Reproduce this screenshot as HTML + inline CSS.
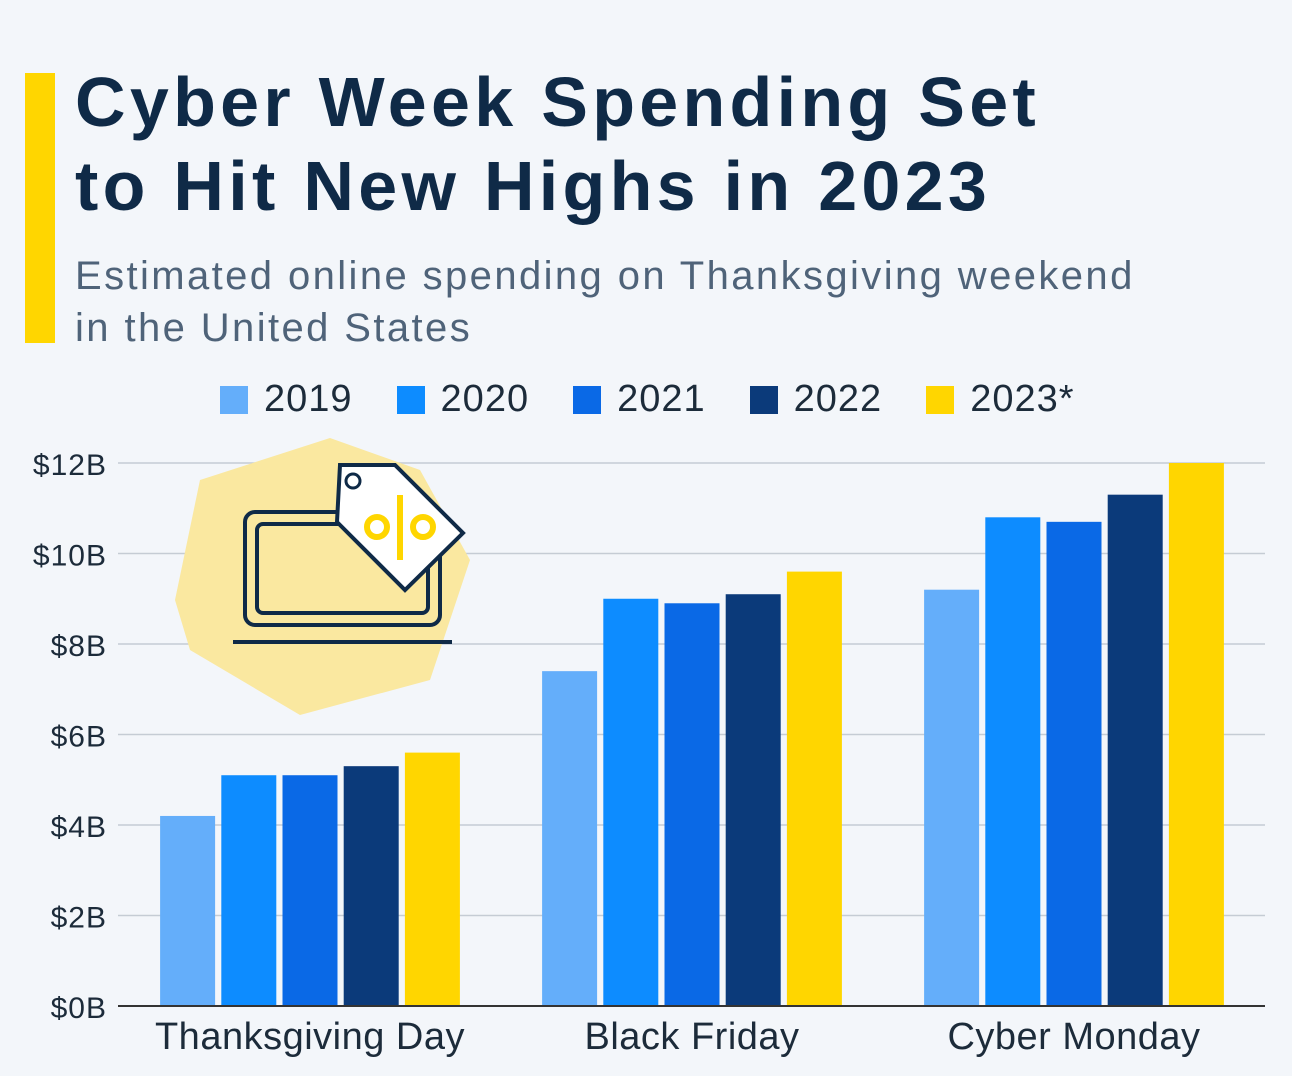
<!DOCTYPE html>
<html><head><meta charset="utf-8"><style>
body{margin:0;width:1292px;height:1076px;background:#f3f6fa;font-family:"Liberation Sans",sans-serif;overflow:hidden;position:relative}
.bar-acc{position:absolute;left:25px;top:73px;width:30px;height:270px;background:#ffd600}
h1{position:absolute;left:75px;top:60px;margin:0;font-size:70px;line-height:84px;font-weight:bold;color:#0f2a47;letter-spacing:4.3px}
.sub{position:absolute;left:75px;top:250px;font-size:40px;line-height:52px;color:#4f6379;letter-spacing:2.4px}
.legend{position:absolute;top:378px;left:220px;display:flex;font-size:38px;color:#1c2b3a;letter-spacing:1px}
.li{display:flex;align-items:center;margin-right:44px}
.sw{width:28px;height:28px;margin-right:16px}
</style></head><body>
<div class="bar-acc"></div>
<h1>Cyber Week Spending Set<br>to Hit New Highs in 2023</h1>
<div class="sub">Estimated online spending on Thanksgiving weekend<br>in the United States</div>
<div class="legend">
<div class="li"><div class="sw" style="background:#64aefa"></div>2019</div>
<div class="li"><div class="sw" style="background:#0d8cff"></div>2020</div>
<div class="li"><div class="sw" style="background:#0a69e6"></div>2021</div>
<div class="li"><div class="sw" style="background:#0b3a7a"></div>2022</div>
<div class="li"><div class="sw" style="background:#ffd600"></div>2023*</div>
</div>
<svg id="chart" width="1292" height="1076" style="position:absolute;left:0;top:0">
<g>
<path d="M200 480 L330 438 L420 470 L470 560 L430 680 L300 715 L190 650 L175 600 Z" fill="#fae8a0"/>
<rect x="245" y="512" width="195" height="113" rx="10" fill="none" stroke="#0f2a47" stroke-width="4"/>
<rect x="257" y="524" width="171" height="89" rx="6" fill="none" stroke="#0f2a47" stroke-width="4"/>
<line x1="233" y1="642" x2="452" y2="642" stroke="#0f2a47" stroke-width="4"/>
<path d="M340 465 L395 465 L463 533 L405 590 L337 522 Z" fill="#fff" stroke="#0f2a47" stroke-width="4"/>
<circle cx="353" cy="481" r="7" fill="none" stroke="#0f2a47" stroke-width="3"/>
<circle cx="377" cy="527" r="10" fill="none" stroke="#ffd600" stroke-width="6"/>
<circle cx="423" cy="527" r="10" fill="none" stroke="#ffd600" stroke-width="6"/>
<line x1="400" y1="495" x2="400" y2="560" stroke="#ffd600" stroke-width="6"/>
</g>
</svg>
<script>
const categories=["Thanksgiving Day","Black Friday","Cyber Monday"];
const years=["2019","2020","2021","2022","2023*"];
const s2019=[4.2,7.4,9.2];
const s2020=[5.1,9.0,10.8];
const s2021=[5.1,8.9,10.7];
const s2022=[5.3,9.1,11.3];
const s2023=[5.6,9.6,12.0];
const ticks=[0,2,4,6,8,10,12];
const tickLabels=["$0B","$2B","$4B","$6B","$8B","$10B","$12B"];
const series=[s2019,s2020,s2021,s2022,s2023];
const colors=["#64aefa","#0d8cff","#0a69e6","#0b3a7a","#ffd600"];
const NS="http://www.w3.org/2000/svg";
const svg=document.getElementById("chart");
const x0=118,x1=1265,yTop=463,yBot=1006,vmax=12;
const y=v=>yBot-(v/vmax)*(yBot-yTop);
const groupC=i=>310+i*382;
const bw=55,step=61.2;
function mk(t,a){const e=document.createElementNS(NS,t);for(const k in a)e.setAttribute(k,a[k]);return e;}
const first=svg.firstChild;
ticks.forEach((t,i)=>{
  const l=mk("line",{x1:x0,x2:x1,y1:y(t),y2:y(t),stroke:t===0?"#333":"#c5ccd4","stroke-width":t===0?2:1.5});
  
  
  svg.insertBefore(l,first);
  const tx=mk("text",{x:107,y:y(t)+12,"text-anchor":"end","font-size":30,fill:"#1c2b3a","font-family":"Liberation Sans, sans-serif","letter-spacing":1});
  tx.textContent=tickLabels[i];
  
  
  svg.appendChild(tx);
});
categories.forEach((c,i)=>{
  series.forEach((s,j)=>{
    const bx=groupC(i)+(j-2)*step-bw/2;
    const r=mk("rect",{x:bx,y:y(s[i]),width:bw,height:yBot-y(s[i]),fill:colors[j]});
    
    
    svg.appendChild(r);
  });
  const tx=mk("text",{x:groupC(i),y:1049,"text-anchor":"middle","font-size":38,fill:"#1c2b3a","font-family":"Liberation Sans, sans-serif","letter-spacing":0.5});
  tx.textContent=c;
  
  
  svg.appendChild(tx);
});
const ax=mk("line",{x1:x0,x2:x1,y1:yBot,y2:yBot,stroke:"#333","stroke-width":2});


svg.appendChild(ax);
</script>
</body></html>
